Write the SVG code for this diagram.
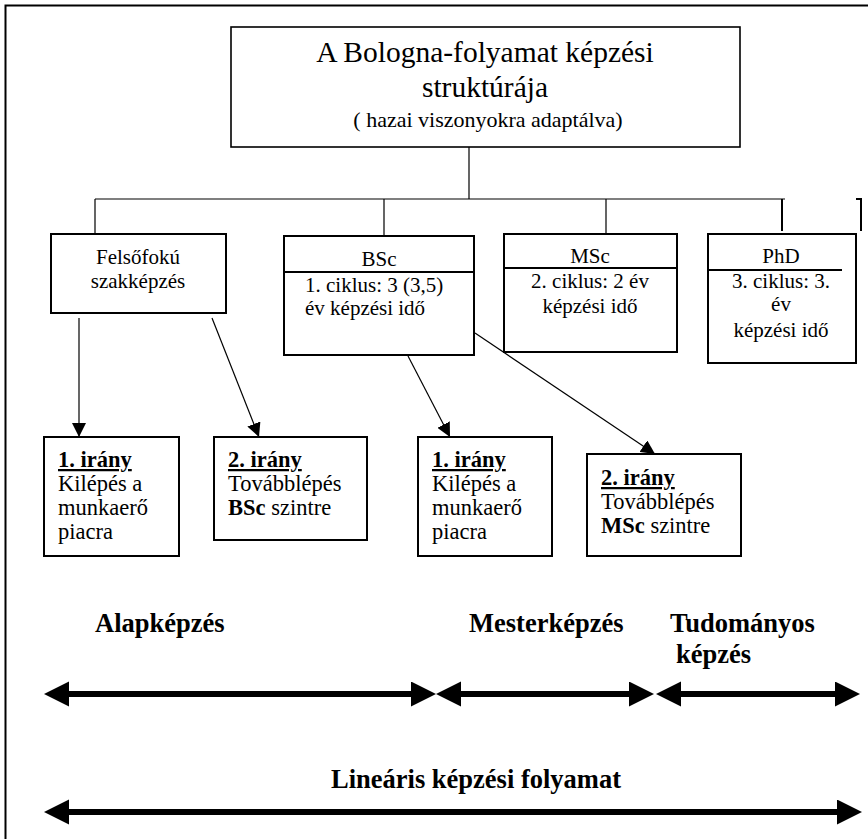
<svg xmlns="http://www.w3.org/2000/svg" width="868" height="839" viewBox="0 0 868 839">
  <style>
    text { font-family: "Liberation Serif", "Times New Roman", serif; fill: #000; }
    .body { font-size: 21px; }
    .low { font-size: 22.5px; }
    .mid { text-anchor: middle; }
    .bold { font-weight: bold; }
    .head { font-weight: bold; text-decoration: underline; }
    .label { font-size: 26.5px; font-weight: bold; }
    .box { fill: #fff; stroke: #000; stroke-width: 2; }
    .thin { fill: none; stroke: #000; stroke-width: 1.2; }
    .fat { fill: none; stroke: #000; stroke-width: 6; }
  </style>
  <defs>
    <marker id="tip" markerUnits="userSpaceOnUse" markerWidth="14" markerHeight="14" refX="14" refY="7" orient="auto">
      <path d="M0,0 L14,7 L0,14 z" fill="#000"/>
    </marker>
    <marker id="bigtip" markerUnits="userSpaceOnUse" markerWidth="26" markerHeight="26" refX="0" refY="12.5" orient="auto-start-reverse">
      <path d="M0,0 L25,12.5 L0,25 z" fill="#000"/>
    </marker>
  </defs>

  <rect width="868" height="839" fill="#fff"/>
  <!-- page frame (top and left edges) -->
  <path d="M5.5,839 V5.5 H868" fill="none" stroke="#000" stroke-width="2"/>

  <g id="connectors">
    <!-- tree from the title box -->
    <path class="thin" d="M469,147 V199 M95,199 H785 M95,199 V234 M384,199 V236 M606,199 V234"/>
    <path fill="none" stroke="#000" stroke-width="2" d="M782,199 V231"/>
    <path fill="none" stroke="#000" stroke-width="2" d="M856,199 H861 V231"/>
    <!-- branch arrows -->
    <line class="thin" x1="79" y1="318" x2="79" y2="437" marker-end="url(#tip)"/>
    <line class="thin" x1="212" y1="318" x2="259" y2="437" marker-end="url(#tip)"/>
    <line class="thin" x1="408" y1="356" x2="450" y2="437" marker-end="url(#tip)"/>
    <line class="thin" x1="475" y1="333" x2="655" y2="454" marker-end="url(#tip)"/>
    <!-- stage spans -->
    <line class="fat" x1="69" y1="694" x2="411" y2="694" marker-start="url(#bigtip)" marker-end="url(#bigtip)"/>
    <line class="fat" x1="461" y1="694" x2="629" y2="694" marker-start="url(#bigtip)" marker-end="url(#bigtip)"/>
    <line class="fat" x1="681" y1="694" x2="835" y2="694" marker-start="url(#bigtip)" marker-end="url(#bigtip)"/>
    <line class="fat" x1="69" y1="812" x2="837" y2="812" marker-start="url(#bigtip)" marker-end="url(#bigtip)"/>
  </g>

  <g id="title">
    <rect x="231" y="27" width="509" height="120" fill="#fff" stroke="#000" stroke-width="1.6"/>
    <text class="mid" x="485" y="62" font-size="29.5">A Bologna-folyamat képzési</text>
    <text class="mid" x="485" y="97" font-size="29.5">struktúrája</text>
    <text class="mid" x="488" y="127" font-size="22">( hazai viszonyokra adaptálva)</text>
  </g>

  <g id="felsofoku">
    <rect class="box" x="51" y="234" width="175" height="79"/>
    <text class="body mid" x="138" y="264">Felsőfokú</text>
    <text class="body mid" x="138" y="288">szakképzés</text>
  </g>

  <g id="bsc">
    <rect class="box" x="284" y="236" width="190" height="119"/>
    <line x1="284" y1="272" x2="474" y2="272" stroke="#000" stroke-width="2"/>
    <text class="body mid" x="379" y="266">BSc</text>
    <text class="body" x="305" y="292">1. ciklus: 3 (3,5)</text>
    <text class="body" x="305" y="315">év képzési idő</text>
  </g>

  <g id="msc">
    <rect class="box" x="504" y="234" width="173" height="118"/>
    <line x1="504" y1="268" x2="677" y2="268" stroke="#000" stroke-width="2"/>
    <text class="body mid" x="590" y="263">MSc</text>
    <text class="body mid" x="590" y="288">2. ciklus: 2 év</text>
    <text class="body mid" x="590" y="313">képzési idő</text>
  </g>

  <g id="phd">
    <rect class="box" x="708" y="234" width="148" height="129"/>
    <line x1="708" y1="270" x2="842" y2="270" stroke="#000" stroke-width="2"/>
    <text class="body mid" x="781" y="263">PhD</text>
    <text class="body mid" x="781" y="288">3. ciklus: 3.</text>
    <text class="body mid" x="781" y="311">év</text>
    <text class="body mid" x="781" y="337">képzési idő</text>
  </g>

  <g id="bsc-exit">
    <rect class="box" x="44" y="437" width="135" height="119"/>
    <text class="low head" x="58" y="467">1. irány</text>
    <text class="low" x="58" y="491">Kilépés a</text>
    <text class="low" x="58" y="515">munkaerő</text>
    <text class="low" x="58" y="539">piacra</text>
  </g>

  <g id="bsc-next">
    <rect class="box" x="214" y="437" width="153" height="103"/>
    <text class="low head" x="228" y="467">2. irány</text>
    <text class="low" x="228" y="491">Továbblépés</text>
    <text class="low" x="228" y="515"><tspan class="bold">BSc</tspan> szintre</text>
  </g>

  <g id="msc-exit">
    <rect class="box" x="418" y="437" width="134" height="119"/>
    <text class="low head" x="432" y="467">1. irány</text>
    <text class="low" x="432" y="491">Kilépés a</text>
    <text class="low" x="432" y="515">munkaerő</text>
    <text class="low" x="432" y="539">piacra</text>
  </g>

  <g id="msc-next">
    <rect class="box" x="587" y="454" width="154" height="102"/>
    <text class="low head" x="601" y="485">2. irány</text>
    <text class="low" x="601" y="509">Továbblépés</text>
    <text class="low" x="601" y="533"><tspan class="bold">MSc</tspan> szintre</text>
  </g>

  <g id="stages">
    <text class="label" x="95" y="632">Alapképzés</text>
    <text class="label" x="469" y="632">Mesterképzés</text>
    <text class="label" x="670" y="632">Tudományos</text>
    <text class="label" x="676" y="663">képzés</text>
    <text class="label" x="331" y="788">Lineáris képzési folyamat</text>
  </g>
</svg>
